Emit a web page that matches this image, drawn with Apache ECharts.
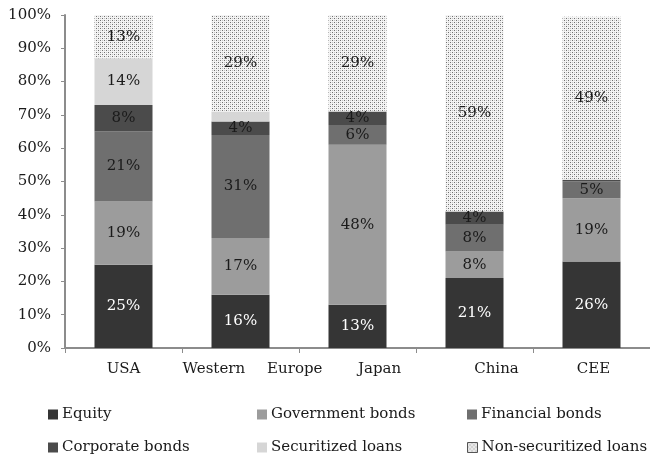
<!DOCTYPE html>
<html>
<head>
<meta charset="utf-8">
<script src="https://cdn.jsdelivr.net/npm/echarts@6/dist/echarts.min.js"></script>
<style>
  html, body { margin: 0; padding: 0; background: #fff; }
  #chart { width: 650px; height: 460px; }
</style>
</head>
<body>
<div id="chart"></div>
<script>
// Regions on the category axis
const regions = ['USA', 'Western Europe', 'Japan', 'China', 'CEE'];

// Share of each funding source (%) per region, bottom to top
const equity         = [25, 16, 13, 21, 26];
const govBonds       = [19, 17, 48, 8, 19];
const finBonds       = [21, 31, 6, 8, 5];
const corpBonds      = [8, 4, 4, 4, 0.5];
const securitized    = [14, 3, 0, 0, 0];
const nonSecuritized = [13, 29, 29, 59, 49];

// Value axis ticks
const yTicks = [0, 10, 20, 30, 40, 50, 60, 70, 80, 90, 100];

const FONT = 'DejaVu Serif';

// Dotted fill for non-securitized loans
function dotPattern() {
  const c = document.createElement('canvas');
  c.width = 4; c.height = 4;
  const g = c.getContext('2d');
  g.fillStyle = '#f4f4f4';
  g.fillRect(0, 0, 4, 4);
  g.fillStyle = '#707070';
  g.fillRect(0, 0, 1, 1);
  g.fillRect(2, 2, 1, 1);
  g.fillStyle = '#c4c4c4';
  g.fillRect(2, 0, 1, 1);
  g.fillRect(0, 2, 1, 1);
  return { image: c, repeat: 'repeat' };
}

const seriesDefs = [
  { name: 'Equity', data: equity, color: '#353535', labelColor: '#ffffff' },
  { name: 'Government bonds', data: govBonds, color: '#9c9c9c', labelColor: '#1a1a1a' },
  { name: 'Financial bonds', data: finBonds, color: '#6f6f6f', labelColor: '#1a1a1a' },
  { name: 'Corporate bonds', data: corpBonds, color: '#4b4b4b', labelColor: '#1a1a1a' },
  { name: 'Securitized loans', data: securitized, color: '#d6d6d6', labelColor: '#1a1a1a' },
  { name: 'Non-securitized loans', data: nonSecuritized, color: dotPattern(), labelColor: '#1a1a1a' }
];

const series = seriesDefs.map(s => ({
  name: s.name,
  type: 'bar',
  stack: 'total',
  barWidth: 58,
  data: s.data,
  itemStyle: { color: s.color },
  emphasis: { disabled: true },
  label: {
    show: true,
    position: 'inside',
    color: s.labelColor,
    fontFamily: FONT,
    fontSize: 15,
    formatter: p => (p.value >= 4 ? p.value + '%' : '')
  }
}));

// Horizontal nudges (px) for the category captions
const labelShift = [0, 12, 22, 22, 2];

// Legend: three columns, two rows
const legendSlots = [
  { name: 'Equity', left: 48, top: 407 },
  { name: 'Government bonds', left: 257, top: 407 },
  { name: 'Financial bonds', left: 467, top: 407 },
  { name: 'Corporate bonds', left: 48, top: 440 },
  { name: 'Securitized loans', left: 257, top: 440 },
  { name: 'Non-securitized loans', left: 467, top: 440 }
];

const legends = legendSlots.map(s => ({
  left: s.left,
  top: s.top,
  padding: 0,
  itemWidth: 10,
  itemHeight: 10,
  itemGap: 0,
  icon: 'rect',
  selectedMode: false,
  textStyle: { fontFamily: FONT, fontSize: 15, color: '#1a1a1a', padding: [0, 0, 0, -1] },
  data: [s.name === 'Non-securitized loans'
    ? { name: s.name, itemStyle: { borderColor: '#555', borderWidth: 1 } }
    : { name: s.name }]
}));

const chart = echarts.init(document.getElementById('chart'), null, { renderer: 'canvas' });
chart.setOption({
  animation: false,
  backgroundColor: '#ffffff',
  grid: { left: 65, right: -2, top: 15, bottom: 112, containLabel: false },
  xAxis: {
    type: 'category',
    data: regions.map((r, i) => ({
      value: r,
      textStyle: { padding: [0, 0, 0, 2 * labelShift[i]] }
    })),
    axisLine: { lineStyle: { color: '#8c8c8c', width: 2 } },
    axisTick: { show: true, length: 5, lineStyle: { color: '#8c8c8c', width: 1 } },
    axisLabel: {
      margin: 14,
      fontFamily: FONT,
      fontSize: 15,
      color: '#1a1a1a',
      interval: 0,
      formatter: v => (v === 'Western Europe' ? 'Western{gap| }Europe' : v),
      rich: { gap: { width: 22, fontFamily: FONT, fontSize: 15 } }
    }
  },
  yAxis: {
    type: 'value',
    min: yTicks[0],
    max: yTicks[yTicks.length - 1],
    interval: yTicks[1] - yTicks[0],
    splitLine: { show: false },
    axisLine: { show: true, lineStyle: { color: '#8c8c8c', width: 2 } },
    axisTick: { show: true, length: 4, lineStyle: { color: '#8c8c8c' } },
    axisLabel: {
      margin: 14,
      fontFamily: FONT,
      fontSize: 15,
      color: '#1a1a1a',
      formatter: '{value}%'
    }
  },
  legend: legends,
  series: series
});
</script>
</body>
</html>
